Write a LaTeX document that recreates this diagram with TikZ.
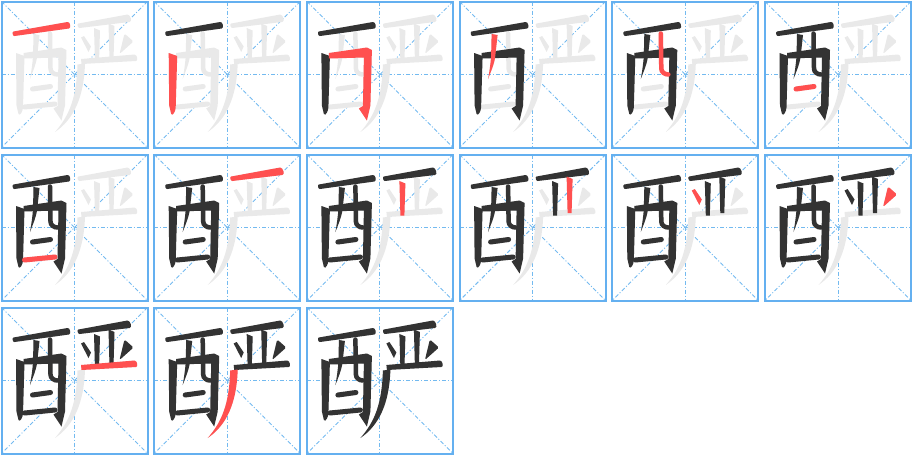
\documentclass[tikz,border=0pt]{standalone}
\usepackage{tikz}

\definecolor{gridblue}{RGB}{100,176,240}
\definecolor{guideblue}{RGB}{115,186,240}
\definecolor{shadowgray}{RGB}{233,233,233}
\definecolor{inkdark}{RGB}{51,51,51}
\definecolor{inkred}{RGB}{255,80,80}

% one stroke of the character, in cell coordinates
\newcommand\hanstroke[1]{%
\ifcase#1
\or \fill (12,30) -- (66,20.5) to[out=10,in=10] (67.5,27) -- (13,34.5) to[out=190,in=190] cycle;
\or \fill (14.5,51.5) -- (23,54.5) -- (21.5,106) to[out=-90,in=-60] (17,112.5) -- (15,104) -- cycle;
\or \fill (22,51.5) -- (60,46) -- (65,48.5) -- (63.5,104) -- (60,119) -- (52,107) -- (56,104.5) -- (57,56) -- (22,57) -- cycle;
\or \fill (32,32.5) -- (38,33.5) -- (35.5,56) to[out=-100,in=70] (28.5,77.5) to[out=80,in=-95] (31.5,55) -- cycle;
\or \draw [line width=4.5pt,line cap=round] (48.5,32) -- (49,67) to[out=-90,in=180] (56,73);
\or \draw [line width=5pt,line cap=round] (31,87.5) -- (49,85);
\or \draw [line width=5pt,line cap=round] (23,105.5) -- (53.5,102.5);
\or \fill (77,22) -- (126,13) to[out=0,in=0] (128,20.5) -- (78,26.5) to[out=180,in=180] cycle;
\or \fill (92.5,26.5) -- (98.5,29) -- (97.5,61) -- (93.5,61) -- cycle;
\or \fill (107,22) -- (113,24.5) -- (112,58.5) -- (108,58.5) -- cycle;
\or \fill (79.5,36) -- (82.5,34.5) -- (89.5,45) -- (87,50.5) -- cycle;
\or \fill [rounded corners=1.5pt] (123,32) -- (132,40) -- (118,52.5) -- cycle;
\or \fill (79.5,57.5) -- (133,53) to[out=0,in=0] (134.5,59.5) -- (80,62.5) -- cycle;
\or \fill (76,63) -- (83.5,62) .. controls (82.5,96) and (72,118) .. (53.5,130.5) .. controls (68,114) and (75,96) .. (76,63) -- cycle;
\fi}

\begin{document}
\begin{tikzpicture}[x=1pt,y=-1pt,
  cellframe/.style={gridblue,line width=2pt},
  guide/.style={guideblue,line width=0.9pt,dash pattern=on 4pt off 2pt on 1pt off 2pt}]
\useasboundingbox (0,0) rectangle (915,456);
\foreach \k in {1,...,15} {
  \pgfmathtruncatemacro\col{mod(\k-1,6)}
  \pgfmathtruncatemacro\row{div(\k-1,6)}
  \begin{scope}[shift={(1.5+152.7*\col,1.5+153*\row)}]
    \draw [guide] (0,0) -- (146,146);
    \draw [guide] (146,0) -- (0,146);
    \draw [guide] (73,0) -- (73,146);
    \draw [guide] (0,73) -- (146,73);
    \draw [cellframe] (0,0) rectangle (146,146);
    % the whole character in grey underneath
    \foreach \s in {1,...,14} {
      \begin{scope}[color=shadowgray] \hanstroke{\s} \end{scope}
    }
    % strokes written so far, the new one in red
    \foreach \s in {1,...,14} {
      \ifnum\s<\k
        \begin{scope}[color=inkdark] \hanstroke{\s} \end{scope}
      \else\ifnum\s=\k
        \begin{scope}[color=inkred] \hanstroke{\s} \end{scope}
      \fi\fi
    }
  \end{scope}
}
\end{tikzpicture}
\end{document}
